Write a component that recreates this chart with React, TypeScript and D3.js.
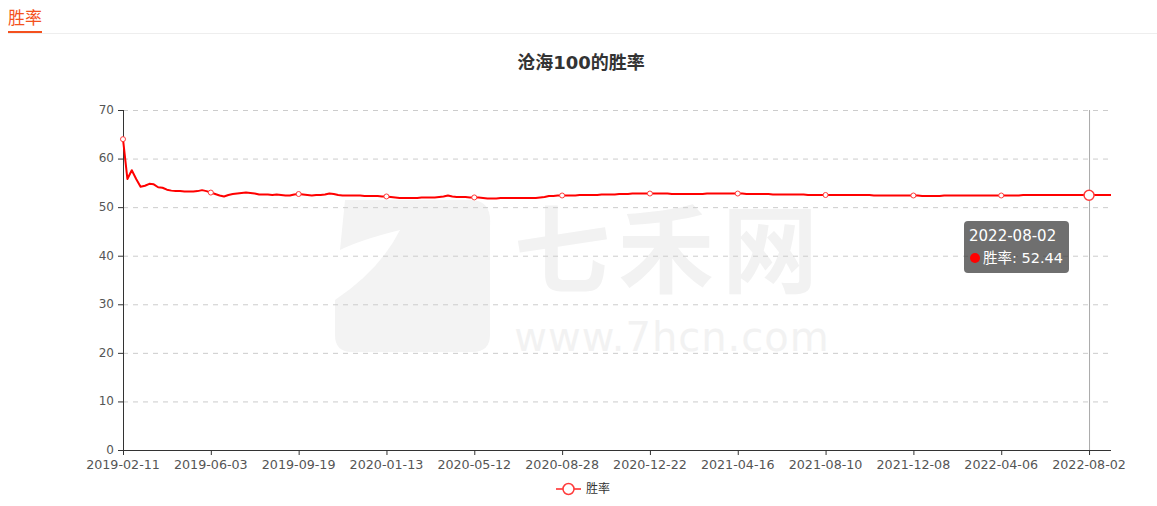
import React, { useEffect, useRef } from "react";
import * as d3 from "d3";

// x-axis labels, one every `labelStep` categories
const tickLabels = [
  "2019-02-11",
  "2019-06-03",
  "2019-09-19",
  "2020-01-13",
  "2020-05-12",
  "2020-08-28",
  "2020-12-22",
  "2021-04-16",
  "2021-08-10",
  "2021-12-08",
  "2022-04-06",
  "2022-08-02",
];
const labelStep = 20;

const yTicks = [0, 10, 20, 30, 40, 50, 60, 70];

// 胜率 series (one value per category step)
const winRate = [
  64.0, 55.8, 57.6, 55.8, 54.2, 54.4, 54.8, 54.7, 54.1, 54.0,
  53.6, 53.4, 53.3, 53.3, 53.2, 53.2, 53.2, 53.3, 53.5, 53.3,
  53.0, 52.7, 52.4, 52.2, 52.5, 52.7, 52.8, 52.9, 53.0, 52.9,
  52.8, 52.6, 52.6, 52.6, 52.5, 52.6, 52.5, 52.4, 52.4, 52.6,
  52.7, 52.6, 52.5, 52.4, 52.5, 52.5, 52.6, 52.8, 52.7, 52.5,
  52.4, 52.4, 52.4, 52.4, 52.4, 52.3, 52.3, 52.3, 52.3, 52.2,
  52.2, 52.1, 52.0, 51.9, 51.9, 51.9, 51.9, 51.9, 52.0, 52.0,
  52.0, 52.0, 52.1, 52.2, 52.4, 52.2, 52.1, 52.1, 52.1, 52.0,
  52.0, 52.0, 51.9, 51.8, 51.8, 51.8, 51.9, 51.9, 51.9, 51.9,
  51.9, 51.9, 51.9, 51.9, 51.9, 52.0, 52.1, 52.3, 52.3, 52.4,
  52.4, 52.4, 52.4, 52.4, 52.5, 52.5, 52.5, 52.5, 52.5, 52.6,
  52.6, 52.6, 52.6, 52.7, 52.7, 52.7, 52.8, 52.8, 52.8, 52.8,
  52.8, 52.8, 52.8, 52.8, 52.8, 52.7, 52.7, 52.7, 52.7, 52.7,
  52.7, 52.7, 52.7, 52.8, 52.8, 52.8, 52.8, 52.8, 52.8, 52.8,
  52.8, 52.8, 52.7, 52.7, 52.7, 52.7, 52.7, 52.7, 52.6, 52.6,
  52.6, 52.6, 52.6, 52.6, 52.6, 52.6, 52.5, 52.5, 52.5, 52.5,
  52.5, 52.5, 52.5, 52.5, 52.5, 52.5, 52.5, 52.5, 52.5, 52.5,
  52.5, 52.4, 52.4, 52.4, 52.4, 52.4, 52.4, 52.4, 52.4, 52.4,
  52.4, 52.4, 52.3, 52.3, 52.3, 52.3, 52.3, 52.4, 52.4, 52.4,
  52.4, 52.4, 52.4, 52.4, 52.4, 52.4, 52.4, 52.4, 52.4, 52.4,
  52.4, 52.4, 52.4, 52.4, 52.4, 52.5, 52.5, 52.5, 52.5, 52.5,
  52.5, 52.5, 52.5, 52.5, 52.5, 52.5, 52.5, 52.5, 52.5, 52.5,
  52.44, 52.5, 52.5, 52.5, 52.5, 52.5,
];

const hoverIndex = 220;
const hoverLabel = "2022-08-02";

const W = 1157;
const H = 506;
const numFont = "'DejaVu Sans', 'Noto Sans CJK SC', sans-serif";
const cjkFont = "'Noto Sans CJK SC', 'DejaVu Sans', sans-serif";

const App: React.FC = () => {
  const ref = useRef<SVGSVGElement | null>(null);

  useEffect(() => {
    document.body.style.margin = "0";
    draw();
  }, []);

  const draw = () => {
    const svg = d3.select(ref.current);
    svg.selectAll("*").remove();

    const margin = { top: 110, right: 46, bottom: 56, left: 123 };
    const x = d3
      .scaleLinear()
      .domain([0, winRate.length - 1])
      .range([margin.left, W - margin.right]);
    const y = d3
      .scaleLinear()
      .domain([0, 70])
      .range([H - margin.bottom, margin.top]);

    // header tab
    svg
      .append("text")
      .attr("x", 8)
      .attr("y", 24)
      .attr("font-family", cjkFont)
      .attr("font-size", 17)
      .attr("fill", "#f4511e")
      .text("胜率");
    svg
      .append("rect")
      .attr("x", 8)
      .attr("y", 33)
      .attr("width", W - 8)
      .attr("height", 1)
      .attr("fill", "#eeeeee");
    svg
      .append("rect")
      .attr("x", 8)
      .attr("y", 31)
      .attr("width", 34)
      .attr("height", 2)
      .attr("fill", "#f4511e");

    // watermark
    const wm = svg.append("g").attr("fill", "#f2f2f2");
    wm.append("path")
      .attr(
        "d",
        "M345,200 L470,200 Q492,200 490,225 L490,335 Q490,352 472,352 L352,352 Q335,352 335,335 L335,300 Q380,270 400,230 Q360,240 340,250 Z"
      )
      .attr("fill", "#f3f3f3");
    wm.append("text")
      .attr("x", 670)
      .attr("y", 285)
      .attr("text-anchor", "middle")
      .attr("font-family", cjkFont)
      .attr("font-size", 96)
      .attr("font-weight", "bold")
      .attr("letter-spacing", 8)
      .text("七禾网");
    wm.append("text")
      .attr("x", 672)
      .attr("y", 351)
      .attr("text-anchor", "middle")
      .attr("font-family", "'DejaVu Sans', sans-serif")
      .attr("font-size", 40)
      .attr("letter-spacing", 1)
      .text("www.7hcn.com");

    // title
    svg
      .append("text")
      .attr("x", 581)
      .attr("y", 69)
      .attr("text-anchor", "middle")
      .attr("font-family", numFont)
      .attr("font-size", 18)
      .attr("font-weight", "bold")
      .attr("fill", "#333")
      .text("沧海100的胜率");

    // grid lines
    svg
      .append("g")
      .selectAll("line")
      .data(yTicks.filter((t) => t > 0))
      .enter()
      .append("line")
      .attr("x1", x(0))
      .attr("x2", x(winRate.length - 1))
      .attr("y1", (d) => y(d) + 0.5)
      .attr("y2", (d) => y(d) + 0.5)
      .attr("stroke", "#cccccc")
      .attr("stroke-dasharray", "5,5");

    // y axis
    const yAxis = svg.append("g");
    yAxis
      .append("line")
      .attr("x1", x(0) + 0.5)
      .attr("x2", x(0) + 0.5)
      .attr("y1", y(70))
      .attr("y2", y(0))
      .attr("stroke", "#333");
    yAxis
      .selectAll(".tick")
      .data(yTicks)
      .enter()
      .append("line")
      .attr("x1", x(0) - 5)
      .attr("x2", x(0))
      .attr("y1", (d) => y(d) + 0.5)
      .attr("y2", (d) => y(d) + 0.5)
      .attr("stroke", "#333");
    yAxis
      .selectAll("text")
      .data(yTicks)
      .enter()
      .append("text")
      .attr("x", x(0) - 9)
      .attr("y", (d) => y(d))
      .attr("dy", "0.32em")
      .attr("text-anchor", "end")
      .attr("font-family", numFont)
      .attr("font-size", 12)
      .attr("fill", "#555")
      .text((d) => d);

    // x axis
    const xAxis = svg.append("g");
    xAxis
      .append("line")
      .attr("x1", x(0))
      .attr("x2", x(winRate.length - 1))
      .attr("y1", y(0) + 0.5)
      .attr("y2", y(0) + 0.5)
      .attr("stroke", "#333");
    xAxis
      .selectAll("line.tick")
      .data(tickLabels)
      .enter()
      .append("line")
      .attr("class", "tick")
      .attr("x1", (_, i) => x(i * labelStep) + 0.5)
      .attr("x2", (_, i) => x(i * labelStep) + 0.5)
      .attr("y1", y(0))
      .attr("y2", y(0) + 5)
      .attr("stroke", "#333");
    xAxis
      .selectAll("text")
      .data(tickLabels)
      .enter()
      .append("text")
      .attr("x", (_, i) => x(i * labelStep))
      .attr("y", y(0) + 19)
      .attr("text-anchor", "middle")
      .attr("font-family", numFont)
      .attr("font-size", 12.7)
      .attr("fill", "#555")
      .text((d) => d);

    // axis pointer
    svg
      .append("line")
      .attr("x1", x(hoverIndex) + 0.5)
      .attr("x2", x(hoverIndex) + 0.5)
      .attr("y1", y(70))
      .attr("y2", y(0))
      .attr("stroke", "#aaa");

    // series line
    const line = d3
      .line<number>()
      .x((_, i) => x(i))
      .y((d) => y(d));
    svg
      .append("path")
      .datum(winRate)
      .attr("fill", "none")
      .attr("stroke", "#ff0000")
      .attr("stroke-width", 2)
      .attr("stroke-linejoin", "round")
      .attr("d", line);

    // symbols shown at label interval
    const shown = d3.range(0, hoverIndex, labelStep);
    svg
      .append("g")
      .selectAll("circle")
      .data(shown)
      .enter()
      .append("circle")
      .attr("cx", (d) => x(d))
      .attr("cy", (d) => y(winRate[d]))
      .attr("r", 2.5)
      .attr("fill", "#fff")
      .attr("stroke", "#ff3b3b")
      .attr("stroke-width", 1);
    svg
      .append("circle")
      .attr("cx", x(hoverIndex))
      .attr("cy", y(winRate[hoverIndex]))
      .attr("r", 5)
      .attr("fill", "#fff")
      .attr("stroke", "#ff3b3b")
      .attr("stroke-width", 1.5);

    // tooltip
    const tip = svg.append("g").attr("transform", "translate(964,221)");
    tip
      .append("rect")
      .attr("width", 105)
      .attr("height", 52)
      .attr("rx", 4)
      .attr("fill", "rgba(50,50,50,0.7)");
    tip
      .append("text")
      .attr("x", 5)
      .attr("y", 20)
      .attr("font-family", numFont)
      .attr("font-size", 15)
      .attr("fill", "#fff")
      .text(hoverLabel);
    tip
      .append("circle")
      .attr("cx", 11)
      .attr("cy", 37)
      .attr("r", 5)
      .attr("fill", "#ff0000");
    tip
      .append("text")
      .attr("x", 19)
      .attr("y", 42)
      .attr("font-family", numFont)
      .attr("font-size", 14.5)
      .attr("fill", "#fff")
      .text(`胜率: ${winRate[hoverIndex].toFixed(2)}`);

    // legend
    const lg = svg.append("g").attr("transform", "translate(556,489)");
    lg.append("line")
      .attr("x1", 0)
      .attr("x2", 25)
      .attr("stroke", "#ff5a5a")
      .attr("stroke-width", 2);
    lg.append("circle")
      .attr("cx", 12.5)
      .attr("r", 5.5)
      .attr("fill", "#fff")
      .attr("stroke", "#ff3b3b")
      .attr("stroke-width", 1.5);
    lg.append("text")
      .attr("x", 30)
      .attr("dy", "0.35em")
      .attr("font-family", cjkFont)
      .attr("font-size", 12)
      .attr("fill", "#333")
      .text("胜率");
  };

  return (
    <div>
      <svg ref={ref} width={W} height={H} style={{ display: "block" }}></svg>
    </div>
  );
};

export default App;
